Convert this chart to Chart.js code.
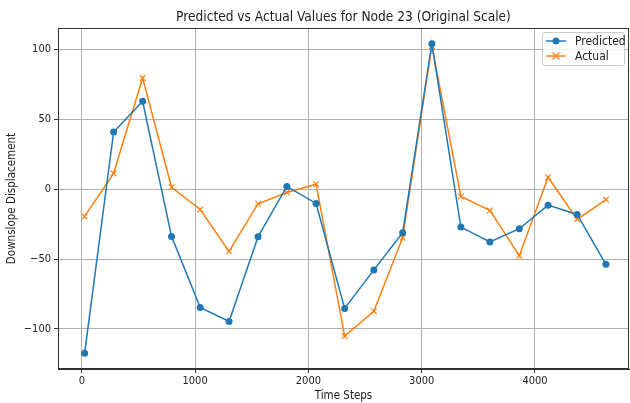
<!DOCTYPE html>
<html>
<head>
<meta charset="utf-8">
<script src="https://cdn.jsdelivr.net/npm/chart.js@4.4.1/dist/chart.umd.min.js"></script>
<style>
  html, body { margin: 0; padding: 0; background: #ffffff; }
  #wrap { width: 630px; height: 403px; }
</style>
</head>
<body>
<div id="wrap"><canvas id="nodeChart" width="630" height="403"></canvas></div>
<script>
const timeSteps = [25, 281, 537, 792, 1045, 1300, 1556, 1810, 2068, 2320, 2578, 2832, 3090, 3346, 3602, 3862, 4116, 4372, 4626];
const predicted = [-117.6, 41, 63, -33.8, -84.7, -94.7, -34, 2, -10.2, -85.4, -57.8, -31.2, 104.3, -27.1, -37.8, -28.3, -11.4, -18.1, -53.8];
const actual = [-19.5, 11.4, 79.6, 1.4, -14.5, -44.5, -10.4, -2.4, 3.6, -105.2, -87.4, -34.7, 102.6, -5.2, -15.2, -47.6, 8.6, -21.6, -7.4];
const xTicks = [0, 1000, 2000, 3000, 4000];
const yTicks = [-100, -50, 0, 50, 100];

const chartTitle = "Predicted vs Actual Values for Node 23 (Original Scale)";
const BLUE = "#1f77b4";
const ORANGE = "#ff7f0e";
const FONT = "DejaVu Sans Condensed";

const toPoints = (ys) => ys.map((y, i) => ({ x: timeSteps[i], y: y }));

// title centred over the axes, full frame and a boxed legend in the upper right corner
const axesDecor = {
  id: "axesDecor",
  afterDraw(chart) {
    const ctx = chart.ctx;
    const area = chart.chartArea;

    ctx.save();
    ctx.fillStyle = "#222222";
    ctx.font = "13.6px '" + FONT + "'";
    ctx.textAlign = "center";
    ctx.textBaseline = "alphabetic";
    ctx.fillText(chartTitle, (area.left + area.right) / 2, 21);

    ctx.strokeStyle = "#333333";
    ctx.lineWidth = 1;
    ctx.strokeRect(area.left + 0.5, area.top + 0.5, area.right - area.left - 1, area.bottom - area.top - 1);
    ctx.restore();

    const items = [
      { label: "Predicted", color: BLUE, marker: "circle" },
      { label: "Actual", color: ORANGE, marker: "x" },
    ];
    const w = 82;
    const h = 33;
    const x0 = area.right - w - 5;
    const y0 = area.top + 4;

    ctx.save();
    ctx.fillStyle = "rgba(255, 255, 255, 0.8)";
    ctx.strokeStyle = "#cccccc";
    ctx.lineWidth = 1;
    ctx.beginPath();
    ctx.roundRect(x0 + 0.5, y0 + 0.5, w, h, 2);
    ctx.fill();
    ctx.stroke();

    ctx.font = "12px '" + FONT + "'";
    ctx.textBaseline = "middle";
    items.forEach((item, i) => {
      const cy = y0 + 9 + i * 15;
      ctx.strokeStyle = item.color;
      ctx.lineWidth = 1.5;
      ctx.beginPath();
      ctx.moveTo(x0 + 4, cy);
      ctx.lineTo(x0 + 24, cy);
      ctx.stroke();
      const mx = x0 + 14;
      if (item.marker === "circle") {
        ctx.fillStyle = item.color;
        ctx.beginPath();
        ctx.arc(mx, cy, 3.5, 0, Math.PI * 2);
        ctx.fill();
      } else {
        ctx.lineWidth = 1.2;
        ctx.beginPath();
        ctx.moveTo(mx - 3.5, cy - 3.5);
        ctx.lineTo(mx + 3.5, cy + 3.5);
        ctx.moveTo(mx - 3.5, cy + 3.5);
        ctx.lineTo(mx + 3.5, cy - 3.5);
        ctx.stroke();
      }
      ctx.fillStyle = "#222222";
      ctx.fillText(item.label, x0 + 33, cy + 0.5);
    });
    ctx.restore();
  },
};

new Chart(document.getElementById("nodeChart"), {
  type: "line",
  data: {
    datasets: [
      {
        label: "Predicted",
        data: toPoints(predicted),
        borderColor: BLUE,
        backgroundColor: BLUE,
        borderWidth: 1.5,
        pointStyle: "circle",
        pointRadius: 3.5,
        pointBorderWidth: 0,
        tension: 0,
      },
      {
        label: "Actual",
        data: toPoints(actual),
        borderColor: ORANGE,
        backgroundColor: ORANGE,
        borderWidth: 1.5,
        pointStyle: "crossRot",
        pointRadius: 4,
        pointBorderWidth: 1.2,
        tension: 0,
      },
    ],
  },
  options: {
    responsive: false,
    animation: false,
    events: [],
    layout: {
      autoPadding: false,
      padding: { top: 28, right: 1, bottom: 0, left: 0 },
    },
    plugins: {
      legend: { display: false },
      tooltip: { enabled: false },
      title: { display: false },
    },
    scales: {
      x: {
        type: "linear",
        min: -210,
        max: 4830,
        afterBuildTicks: (scale) => {
          scale.ticks = xTicks.map((v) => ({ value: v }));
        },
        afterFit: (scale) => {
          scale.height = 34;
        },
        grid: {
          color: "#b0b0b0",
          lineWidth: 1,
          drawTicks: true,
          tickLength: 4,
          tickColor: "#333333",
        },
        border: { display: true, color: "#333333", width: 1 },
        ticks: {
          color: "#222222",
          padding: 2,
          maxRotation: 0,
          font: { size: 11, family: FONT },
          callback: (v) => String(v),
        },
        title: {
          display: true,
          text: "Time Steps",
          color: "#222222",
          padding: { top: 1, bottom: 0 },
          font: { size: 11.5, family: FONT },
        },
      },
      y: {
        type: "linear",
        min: -128.8,
        max: 115.5,
        afterBuildTicks: (scale) => {
          scale.ticks = yTicks.map((v) => ({ value: v }));
        },
        afterFit: (scale) => {
          scale.width = 58;
        },
        grid: {
          color: "#b0b0b0",
          lineWidth: 1,
          drawTicks: true,
          tickLength: 4,
          tickColor: "#333333",
        },
        border: { display: true, color: "#333333", width: 1 },
        ticks: {
          color: "#222222",
          padding: 3,
          font: { size: 11, family: FONT },
          callback: (v) => (v < 0 ? "\u2212" + Math.abs(v) : String(v)),
        },
        title: {
          display: true,
          text: "Downslope Displacement",
          color: "#222222",
          padding: { top: 5, bottom: 0 },
          font: { size: 11.5, family: FONT },
        },
      },
    },
  },
  plugins: [axesDecor],
});
</script>
</body>
</html>
